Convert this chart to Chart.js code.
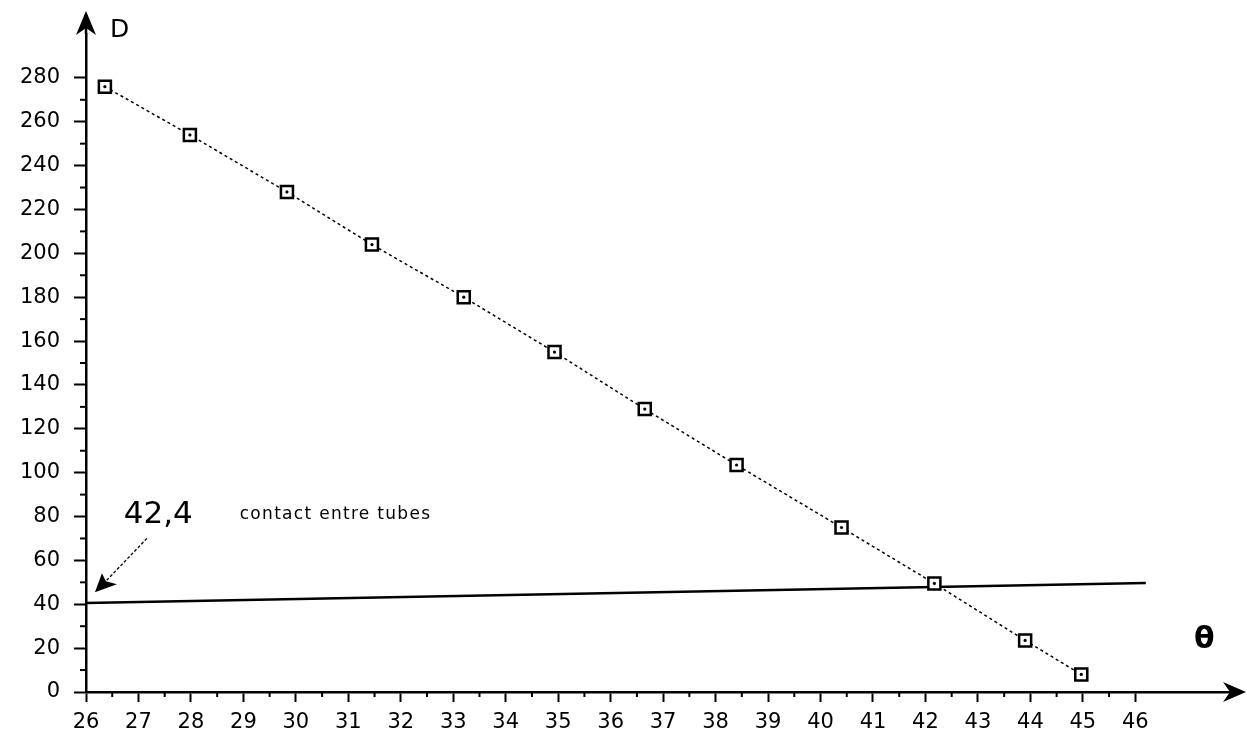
<!DOCTYPE html>
<html>
<head>
<meta charset="utf-8">
<script src="https://cdn.jsdelivr.net/npm/chart.js@4.4.1/dist/chart.umd.min.js"></script>
<style>
  html, body { margin: 0; padding: 0; background: #fff; }
  #wrap { width: 1247px; height: 741px; }
</style>
</head>
<body>
<div id="wrap"><canvas id="grafico" width="1247" height="741"></canvas></div>
<script>
// measured points (theta in degrees, D)
const thetaValues = [26.36, 27.98, 29.83, 31.45, 33.2, 34.93, 36.65, 38.4, 40.4, 42.17, 43.9, 44.97];
const dValues = [276, 254, 228, 204, 180, 155, 129, 103.5, 75, 49.5, 23.5, 8];

// "contact entre tubes" line
const contactTheta = [26, 46.2];
const contactD = [40.6, 49.7];

// tick labels
const xTicks = [26, 27, 28, 29, 30, 31, 32, 33, 34, 35, 36, 37, 38, 39, 40, 41, 42, 43, 44, 45, 46];
const yTicks = [0, 20, 40, 60, 80, 100, 120, 140, 160, 180, 200, 220, 240, 260, 280];

const annotValue = '42,4';
const annotText = 'contact entre tubes';

const pts = thetaValues.map((x, i) => ({ x: x, y: dValues[i] }));
const contactPts = contactTheta.map((x, i) => ({ x: x, y: contactD[i] }));

const decor = {
  id: 'decor',
  afterDraw(chart) {
    const c = chart.ctx;
    const xs = chart.scales.x, ys = chart.scales.y;
    const x0 = xs.getPixelForValue(xTicks[0]);
    const y0 = ys.getPixelForValue(0);
    c.save();
    c.fillStyle = '#000';
    c.strokeStyle = '#000';

    // minor ticks
    c.lineWidth = 2;
    for (let i = 0; i < xTicks.length - 1; i++) {
      const px = xs.getPixelForValue(xTicks[i] + 0.5);
      c.beginPath(); c.moveTo(px, y0); c.lineTo(px, y0 + 5); c.stroke();
    }
    for (let i = 0; i < yTicks.length - 1; i++) {
      const py = ys.getPixelForValue(yTicks[i] + 10);
      c.beginPath(); c.moveTo(x0, py); c.lineTo(x0 - 6, py); c.stroke();
    }

    // axis arrows
    const top = chart.chartArea.top;
    c.lineWidth = 2.5;
    c.beginPath(); c.moveTo(x0, top); c.lineTo(x0, 14); c.stroke();
    c.beginPath();
    c.moveTo(x0, 11); c.lineTo(x0 - 10, 35); c.lineTo(x0, 28); c.lineTo(x0 + 10, 35);
    c.closePath(); c.fill();
    const right = chart.chartArea.right;
    c.beginPath(); c.moveTo(right, y0); c.lineTo(1240, y0); c.stroke();
    c.beginPath();
    c.moveTo(1246, y0); c.lineTo(1223, y0 - 10); c.lineTo(1230, y0); c.lineTo(1223, y0 + 10);
    c.closePath(); c.fill();

    // axis names
    c.font = '25px "DejaVu Sans"';
    c.textAlign = 'left';
    c.textBaseline = 'middle';
    c.fillText('D', 110, 30);
    c.font = 'bold 30px "DejaVu Sans"';
    c.fillText('θ', 1194, 640);

    // annotation
    c.font = '31px "DejaVu Sans"';
    c.textBaseline = 'middle';
    c.fillText(annotValue, xs.getPixelForValue(26.72), ys.getPixelForValue(80.5));
    c.font = '17px "DejaVu Sans"';
    c.letterSpacing = '1.3px';
    c.fillText(annotText, xs.getPixelForValue(28.93), ys.getPixelForValue(81));
    c.letterSpacing = '0px';

    // arrow to the contact line
    const ax1 = xs.getPixelForValue(27.16), ay1 = ys.getPixelForValue(70);
    const ax2 = xs.getPixelForValue(26.17), ay2 = ys.getPixelForValue(45.5);
    c.lineWidth = 1.3;
    c.setLineDash([3, 2]);
    c.beginPath(); c.moveTo(ax1, ay1); c.lineTo(ax2 + 8, ay2 - 8); c.stroke();
    c.setLineDash([]);
    c.beginPath();
    c.moveTo(ax2, ay2); c.lineTo(ax2 + 7, ay2 - 19); c.lineTo(ax2 + 11, ay2 - 11);
    c.lineTo(ax2 + 22, ay2 - 8); c.closePath(); c.fill();
    c.restore();
  }
};

const ctx = document.getElementById('grafico').getContext('2d');

const chart = new Chart(ctx, {
  type: 'scatter',
  data: {
    datasets: [
      {
        data: pts,
        showLine: false,
        pointRadius: 1.6,
        pointBorderWidth: 0,
        pointBackgroundColor: '#000'
      },
      {
        data: pts,
        showLine: true,
        borderColor: '#000',
        borderWidth: 1.5,
        borderDash: [3, 3],
        pointStyle: 'rect',
        pointRadius: 8.5,
        pointBorderWidth: 2.5,
        pointBackgroundColor: '#fff',
        pointBorderColor: '#000'
      },
      {
        data: contactPts,
        showLine: true,
        borderColor: '#000',
        borderWidth: 2.5,
        pointRadius: 0
      }
    ]
  },
  options: {
    responsive: false,
    animation: false,
    layout: { padding: { top: 34, right: 12, left: 0, bottom: 0 } },
    plugins: { legend: { display: false }, tooltip: { enabled: false } },
    scales: {
      x: {
        type: 'linear',
        min: 26,
        max: 47.9,
        afterFit: s => { s.height = 49; },
        afterBuildTicks: s => { s.ticks = xTicks.map(v => ({ value: v })); },
        grid: { drawOnChartArea: false, tickLength: 10, tickWidth: 2, tickColor: '#000' },
        border: { display: true, color: '#000', width: 2.5 },
        ticks: {
          autoSkip: false,
          maxRotation: 0,
          padding: 8,
          color: '#000',
          font: { family: 'DejaVu Sans', size: 21 }
        }
      },
      y: {
        type: 'linear',
        min: 0,
        max: 300,
        afterFit: s => { s.width = 86; },
        afterBuildTicks: s => { s.ticks = yTicks.map(v => ({ value: v })); },
        grid: { drawOnChartArea: false, tickLength: 12, tickWidth: 2, tickColor: '#000' },
        border: { display: true, color: '#000', width: 2.5 },
        ticks: {
          padding: 14,
          color: '#000',
          font: { family: 'DejaVu Sans', size: 21 }
        }
      }
    }
  },
  plugins: [decor]
});
</script>
</body>
</html>
